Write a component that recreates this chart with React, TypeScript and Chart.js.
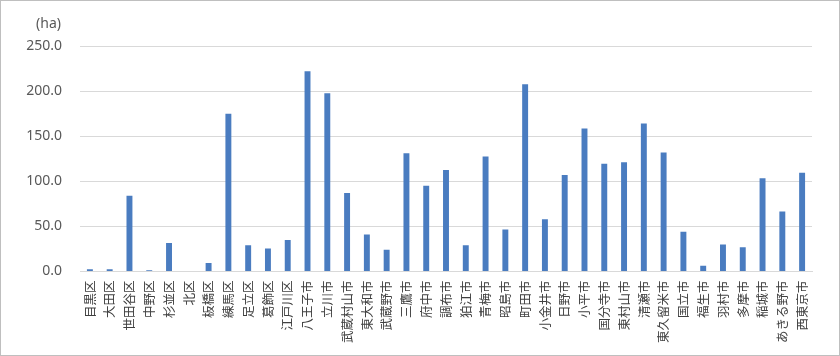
import React, { useEffect, useRef } from "react";
import { Chart, registerables } from "chart.js";

Chart.register(...registerables);

const categories: string[] = [
  "目黒区", "大田区", "世田谷区", "中野区", "杉並区", "北区", "板橋区", "練馬区",
  "足立区", "葛飾区", "江戸川区", "八王子市", "立川市", "武蔵村山市", "東大和市",
  "武蔵野市", "三鷹市", "府中市", "調布市", "狛江市", "青梅市", "昭島市", "町田市",
  "小金井市", "日野市", "小平市", "国分寺市", "東村山市", "清瀬市", "東久留米市",
  "国立市", "福生市", "羽村市", "多摩市", "稲城市", "あきる野市", "西東京市",
];

const areaHa: number[] = [
  2.5, 2.5, 84, 1.5, 31.5, 0, 9.5, 175,
  29, 25.5, 35, 222, 197.5, 87, 41,
  24, 131, 95, 112.5, 29, 127.5, 46.5, 207.5,
  58, 107, 158.5, 119.5, 121, 164, 132,
  44, 6.5, 30, 27, 103.5, 66.5, 109.5,
];

const yTicks: number[] = [0, 50, 100, 150, 200, 250];
const unitLabel = "(ha)";

const unitPlugin = {
  id: "unitLabel",
  afterDraw(chart: any) {
    const y = chart.scales.y;
    const ctx = chart.ctx;
    ctx.save();
    ctx.font = "14px 'Noto Sans', 'Noto Sans CJK JP', sans-serif";
    ctx.fillStyle = "#595959";
    ctx.textAlign = "right";
    ctx.textBaseline = "middle";
    ctx.fillText(unitLabel, y.right - 19, y.top - 22);
    ctx.restore();
  },
};

export default function App() {
  const ref = useRef<HTMLCanvasElement>(null);
  useEffect(() => {
    if (!ref.current) return;
    const chart = new Chart(ref.current, {
      type: "bar",
      data: {
        labels: categories,
        datasets: [
          {
            data: areaHa,
            backgroundColor: "#4a7cc0",
            borderWidth: 0,
            barPercentage: 0.6,
            categoryPercentage: 0.5,
          },
        ],
      },
      options: {
        responsive: false,
        animation: false,
        layout: { padding: { left: 23, right: 27, top: 45, bottom: 3 } },
        plugins: {
          legend: { display: false },
          tooltip: { enabled: false },
        },
        scales: {
          x: {
            grid: { display: false, drawTicks: false },
            border: { color: "#d9d9d9", width: 1 },
            afterFit: (scale: any) => {
              scale.paddingLeft = 0;
              scale.paddingRight = 0;
            },
            ticks: {
              autoSkip: false,
              maxRotation: 90,
              minRotation: 90,
              padding: 9,
              color: "#404040",
              font: { size: 12.5, family: "'Noto Sans CJK JP', sans-serif" },
            },
          },
          y: {
            min: 0,
            max: 250,
            afterBuildTicks: (axis: any) => {
              axis.ticks = yTicks.map((v) => ({ value: v }));
            },
            afterFit: (scale: any) => {
              scale.width = 56;
            },
            grid: { color: "#d9d9d9", drawTicks: false },
            border: { display: false },
            ticks: {
              padding: 18,
              color: "#595959",
              font: { size: 14, family: "'Noto Sans', sans-serif" },
              callback: (v: any) => Number(v).toFixed(1),
            },
          },
        },
      },
      plugins: [unitPlugin],
    });
    return () => chart.destroy();
  }, []);
  return (
    <div
      style={{
        position: "fixed",
        left: 0,
        top: 0,
        width: 840,
        height: 356,
        boxSizing: "border-box",
        border: "1px solid #bfbfbf",
        background: "#fff",
        overflow: "hidden",
      }}
    >
      <canvas ref={ref} width={838} height={354} style={{ display: "block" }} />
    </div>
  );
}
